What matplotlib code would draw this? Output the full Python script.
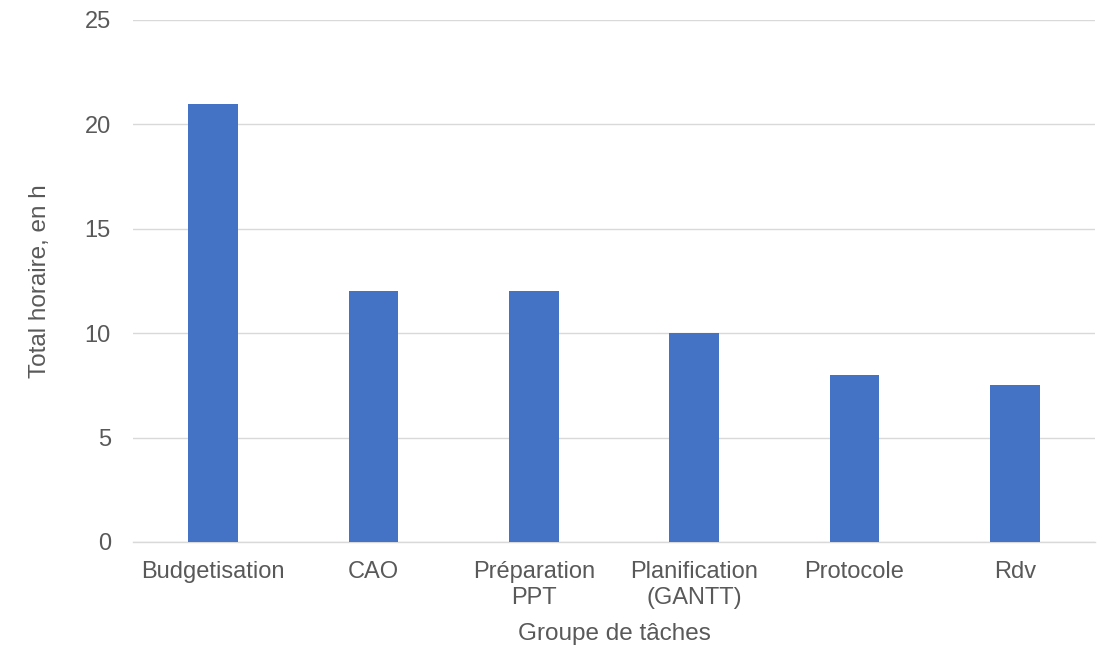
import matplotlib
matplotlib.use("Agg")
import matplotlib.pyplot as plt

categories = ["Budgetisation", "CAO", "Préparation\nPPT", "Planification\n(GANTT)", "Protocole", "Rdv"]
hours = [21, 12, 12, 10, 8, 7.5]
yticks = [0, 5, 10, 15, 20, 25]

plt.rcParams["font.family"] = ["Liberation Sans", "DejaVu Sans"]
text_color = "#595959"
grid_color = "#d9d9d9"

fig = plt.figure(figsize=(11.07, 6.49), dpi=100)
ax = fig.add_axes([133 / 1107, 107 / 649, 962 / 1107, 522 / 649])

x = range(len(categories))
ax.bar(x, hours, width=0.31, color="#4472C4", zorder=3)

ax.set_xlim(-0.5, len(categories) - 0.5)
ax.set_ylim(0, 25)
ax.set_yticks(yticks)
ax.set_xticks(list(x))
ax.set_xticklabels(categories, fontsize=17, color=text_color, linespacing=1.22)
ax.set_yticklabels([str(t) for t in yticks], fontsize=17, color=text_color)
ax.tick_params(axis="x", length=0, pad=14)
ax.tick_params(axis="y", length=0, pad=16)

ax.grid(axis="y", color=grid_color, linewidth=1, zorder=0)
for side in ["top", "right", "left"]:
    ax.spines[side].set_visible(False)
ax.spines["bottom"].set_color(grid_color)
ax.spines["bottom"].set_linewidth(1)

ax.set_xlabel("Groupe de tâches", fontsize=17.5, color=text_color, labelpad=10)
ax.set_ylabel("Total horaire, en h", fontsize=17.5, color=text_color, labelpad=24)

fig.savefig("out.png", dpi=100)
